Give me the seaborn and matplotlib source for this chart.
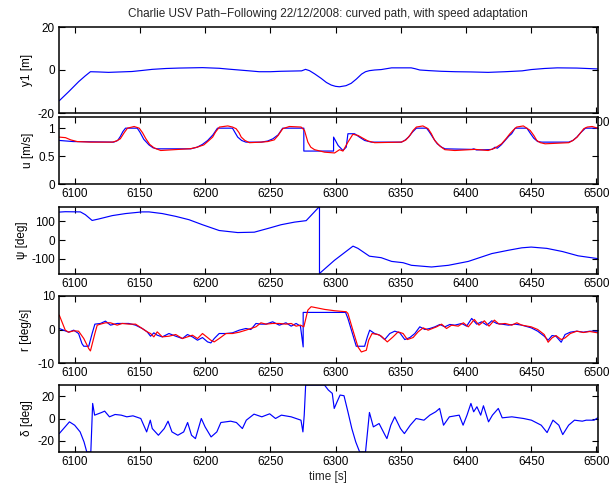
import matplotlib
matplotlib.use("Agg")
import matplotlib.pyplot as plt
import seaborn as sns

# ---- cross-track error y1 [m]
t_y1 = [6088.2, 6095.4, 6103.1, 6108, 6112.1, 6118, 6126, 6135, 6144, 6152,
        6159.5, 6170, 6180, 6198, 6210.8, 6218, 6226, 6234, 6241.5, 6250,
        6258, 6274, 6277, 6280, 6284, 6289, 6293, 6296.7, 6300, 6303, 6308,
        6312, 6316, 6320, 6323, 6326, 6330, 6335, 6343, 6358, 6361, 6364.6,
        6372, 6381, 6392, 6404, 6417, 6430, 6443, 6450, 6460, 6470, 6485,
        6501]
y1 = [-14.3, -10.1, -5.4, -2.8, -0.8, -0.9, -1.1, -0.9, -0.7, -0.2,
      0.3, 0.7, 0.9, 1.1, 0.8, 0.4, 0.0, -0.4, -0.8, -0.8,
      -0.6, -0.4, 0.3, -0.3, -1.8, -3.9, -5.8, -7.0, -7.6, -7.8, -7.3,
      -6.2, -4.2, -1.9, -0.8, -0.3, 0.0, 0.2, 1.0, 1.0, 0.6, 0.0,
      -0.3, -0.6, -0.8, -0.9, -1.1, -0.8, -0.4, 0.2, 0.7, 1.0, 0.9,
      0.5]

# ---- surge speed u [m/s]: desired (blue) and measured (red)
t_u_ref = [6088.2, 6099, 6130, 6133, 6135, 6137, 6139, 6148, 6150, 6153,
           6157, 6160, 6163, 6189, 6194, 6198, 6202, 6206, 6209.5, 6221,
           6223, 6225, 6228, 6231.3, 6243, 6248, 6252, 6256, 6259.5,
           6275.7, 6275.7, 6298.5, 6298.5, 6302, 6305.7, 6308.2, 6309.5,
           6314.6, 6319, 6322.3, 6327.5, 6350.5, 6353, 6356, 6359, 6362,
           6369.8, 6372, 6375, 6378, 6381.3, 6384, 6404.4, 6406, 6408,
           6417, 6420, 6422.3, 6424, 6427, 6430, 6433, 6435, 6437.7, 6446.7,
           6449, 6452, 6455, 6458.2, 6478.8, 6482, 6485, 6488, 6491.6, 6501]
u_ref = [0.78, 0.76, 0.75, 0.78, 0.85, 0.94, 1.00, 1.00, 0.93, 0.80,
         0.70, 0.65, 0.63, 0.63, 0.66, 0.71, 0.78, 0.88, 1.00, 1.00,
         0.92, 0.84, 0.78, 0.75, 0.75, 0.77, 0.81, 0.88, 1.00,
         1.00, 0.59, 0.59, 0.84, 0.69, 0.60, 0.66, 0.90,
         0.90, 0.83, 0.78, 0.75, 0.75, 0.78, 0.84, 0.93, 1.00,
         1.00, 0.93, 0.82, 0.72, 0.66, 0.63, 0.62, 0.63, 0.61,
         0.615, 0.62, 0.66, 0.64, 0.70, 0.78, 0.86, 0.90, 1.00, 1.00,
         0.92, 0.82, 0.76, 0.75, 0.75, 0.78, 0.84, 0.92, 1.00, 1.00]

t_u_meas = [6088.2, 6093, 6097, 6102, 6112, 6129, 6132, 6135, 6138, 6140.5,
            6145.6, 6149.5, 6152, 6154.6, 6157.5, 6161, 6166, 6176.5, 6189,
            6194, 6199, 6202, 6205.8, 6208, 6211, 6217.4, 6221, 6223.8, 6226,
            6227.7, 6230.5, 6234, 6243, 6248, 6253, 6256, 6259.5, 6264.6,
            6273.6, 6276.2, 6278.8, 6281, 6283.9, 6291.6, 6299.3, 6303.1,
            6305.7, 6309.5, 6313.3, 6317.2, 6321, 6324.9, 6330, 6350.5, 6354,
            6357, 6359.5, 6362, 6367, 6371, 6373.5, 6376, 6380, 6383.8,
            6391.5, 6407, 6417, 6422, 6427.3, 6431, 6433.7, 6436.5, 6438.9,
            6444, 6449.2, 6452, 6454.3, 6457, 6460.7, 6478.8, 6482, 6485.2,
            6488, 6490.3, 6493, 6496.7, 6501]
u_meas = [0.84, 0.83, 0.79, 0.76, 0.75, 0.75, 0.77, 0.81, 0.92, 1.00,
          1.03, 1.00, 0.92, 0.81, 0.71, 0.645, 0.60, 0.615, 0.633,
          0.66, 0.70, 0.76, 0.84, 0.93, 1.02, 1.04, 1.02, 0.99, 0.92,
          0.84, 0.78, 0.74, 0.75, 0.76, 0.79, 0.87, 0.99, 1.03,
          1.02, 0.96, 0.75, 0.66, 0.615, 0.57, 0.556, 0.615,
          0.59, 0.75, 0.89, 0.87, 0.82, 0.77, 0.74, 0.75, 0.79,
          0.87, 0.96, 1.02, 1.04, 0.99, 0.90, 0.78, 0.68, 0.615,
          0.60, 0.62, 0.60, 0.64, 0.72, 0.82, 0.90, 0.97, 1.02,
          1.04, 0.96, 0.87, 0.78, 0.74, 0.72, 0.74, 0.78, 0.84,
          0.92, 0.99, 1.02, 1.03, 1.00]

# ---- heading psi [deg] (wraps at +/-180)
t_psi = [6088.2, 6092.8, 6104.4, 6108.2, 6113.4, 6118.5, 6128.8, 6139, 6151.8,
         6157, 6167.2, 6177.5, 6187.7, 6198, 6210.8, 6225, 6237.7, 6249.2,
         6258.2, 6268.5, 6277.5, 6287.7, 6287.7, 6299.2, 6313.4, 6317.2,
         6326, 6335, 6343, 6351.8, 6358.2, 6373.6, 6386.5, 6401.8, 6419.8,
         6432.6, 6442.8, 6450, 6462, 6474, 6486, 6501]
psi = [150, 152, 151, 136, 105, 113, 131, 142, 151,
       151, 142, 127, 109, 82, 51, 40, 42, 64,
       82, 96, 104, 180, -180, -109, -33, -45,
       -87, -95, -115, -122, -136, -145, -136, -115, -73,
       -55, -42, -38, -45, -62, -85, -100]

# ---- yaw rate r [deg/s]: reference (blue) and measured (red)
t_r_ref = [6088.2, 6092.8, 6095.4, 6099.3, 6103, 6105.6, 6107, 6110.8, 6113.4,
           6115.5, 6119.8, 6123.6, 6127.5, 6132.6, 6136.5, 6141.5, 6146.7,
           6151.8, 6155.6, 6158.2, 6160.7, 6163.3, 6167.2, 6172.3, 6177.5,
           6182.6, 6186.5, 6190.3, 6194.2, 6198, 6201.9, 6204.4, 6207,
           6210.8, 6216, 6221, 6226.2, 6231.3, 6235.1, 6239, 6242.8, 6246.7,
           6251.8, 6256.9, 6262, 6266, 6269.8, 6273.1, 6275.2, 6275.2,
           6275.4, 6307.7, 6309.5, 6315.9, 6322.3, 6324.4, 6326.2, 6330,
           6333.9, 6337.7, 6341.6, 6345.4, 6349.3, 6353.1, 6357, 6360.8,
           6364.6, 6368.5, 6372.3, 6376.2, 6380, 6383.8, 6387.7, 6391.5,
           6396.7, 6400.5, 6404.4, 6408.2, 6412, 6416, 6419.8, 6423.6,
           6427.4, 6432.6, 6437.7, 6442.8, 6450, 6455, 6460, 6463, 6466,
           6469, 6473, 6476, 6480, 6485, 6490, 6495, 6501]
r_ref = [0.3, -0.4, -0.8, -0.2, -1.2, -4.2, -5.0, -5.0, -1.2,
         1.6, 1.8, 2.5, 1.3, 1.8, 1.8, 1.8, 1.3,
         0.3, -0.7, -2.0, -1.0, -1.7, -2.2, -1.2, -2.0,
         -2.7, -1.5, -2.2, -3.2, -2.4, -3.7, -4.0, -2.7,
         -1.2, -1.2, -1.0, -0.2, 0.3, 0.0, 1.8, 1.6, 1.6,
         2.3, 1.3, 2.0, 1.0, 1.8, 1.0, -5.2, 5.1,
         5.1, 5.1, 3.3, -5.0, -5.0, -2.2, -0.2, -1.2,
         -1.7, -3.0, -1.2, -0.5, -1.0, -3.0, -2.4, -1.2,
         0.8, 0.0, 0.3, 0.8, 1.5, 0.8, 1.5, 1.3,
         1.8, 1.0, 3.3, 1.6, 2.3, 1.3, 2.6, 1.8,
         1.6, 1.3, 1.6, 1.3, 0.5, -0.5, -2.0, -3.2, -1.8,
         -2.0, -3.8, -1.5, -0.8, -0.5, -0.8, -0.5, -0.5]

t_r_meas = [6088.2, 6092.8, 6095.4, 6099.3, 6103, 6107, 6110.8, 6112.1,
            6115.5, 6117.3, 6119.8, 6123.6, 6127.5, 6132.6, 6136.5, 6141.5,
            6146.7, 6151.8, 6155.6, 6158.2, 6160.7, 6163.3, 6167.2, 6172.3,
            6177.5, 6182.6, 6186.5, 6190.3, 6194.2, 6198, 6201.9, 6204.4,
            6207, 6210.8, 6216, 6221, 6226.2, 6231.3, 6235.1, 6239, 6242.8,
            6246.7, 6251.8, 6256.9, 6262, 6266, 6269.8, 6273.1, 6275.7,
            6278.8, 6281.3, 6283.9, 6291.6, 6299.3, 6308.2, 6309.5, 6313.3,
            6317.2, 6319.8, 6323.6, 6325.4, 6328, 6332.6, 6335.1, 6339.7,
            6344.1, 6348, 6351.8, 6355.1, 6359.5, 6363.3, 6367.2, 6371,
            6377.5, 6381.3, 6385.1, 6389, 6394.1, 6398, 6401.8, 6406.4, 6410,
            6414.1, 6417.7, 6421.8, 6425.4, 6430, 6435.1, 6439, 6442.8, 6450,
            6455, 6460, 6463, 6466, 6469, 6473, 6476, 6480, 6485, 6490, 6495,
            6501]
r_meas = [4.3, -0.2, -0.8, -0.4, -0.5, -2.7, -5.7, -6.4,
          -1.2, 1.3, 1.6, 2.0, 2.0, 1.3, 1.8, 1.6,
          1.6, 0.3, -0.7, -1.2, -2.2, -0.7, -2.2, -2.0,
          -1.5, -2.7, -2.2, -1.7, -2.7, -1.2, -2.4, -3.2,
          -3.7, -2.7, -1.2, -1.2, -0.8, -0.2, 0.3, 0.8, 2.0,
          1.6, 1.8, 1.8, 1.6, 1.8, 1.0, 1.3, 0.8,
          5.8, 6.8, 6.6, 6.0, 5.6, 5.3, 4.8, -0.2,
          -5.2, -6.7, -6.2, -3.2, -1.2, -1.5, -2.0, -3.7,
          -2.2, -0.7, -1.2, -3.0, -2.4, -0.7, 0.5, -0.2,
          0.8, 1.6, 0.3, 1.3, 1.0, 2.0, 0.8, 3.0, 1.3,
          2.6, 1.0, 2.8, 1.6, 1.8, 1.3, 2.0, 1.3, 0.8,
          0.0, -1.5, -3.8, -2.5, -1.8, -3.0, -2.5, -1.2, -0.5, -0.9, -0.6,
          -1.0]

# ---- rudder angle delta [deg]
t_delta = [6088.2, 6096, 6100, 6104.2, 6107.2, 6109.3, 6112.4, 6113.8, 6115.3,
           6120.7, 6123, 6126.7, 6131, 6135.7, 6140, 6144.7, 6150.7, 6155.2,
           6158, 6159.5, 6164.2, 6168.7, 6171.6, 6174.6, 6179.1, 6183.6,
           6186.6, 6189.6, 6192.6, 6197.1, 6200, 6204.6, 6209, 6212.1, 6219.6,
           6224, 6228.6, 6231.6, 6237.5, 6243.5, 6249.5, 6254, 6258.5, 6266,
           6273.5, 6275, 6276, 6277.1, 6291.5, 6294.5, 6297.5, 6299, 6301.2,
           6303.5, 6306.5, 6309.5, 6312.5, 6315.5, 6318.5, 6323, 6326, 6329,
           6333.4, 6338, 6339.4, 6342.4, 6345.4, 6349.8, 6352.8, 6357.3,
           6361.8, 6367.8, 6372.3, 6376.8, 6379.8, 6382.8, 6387.3, 6394.8,
           6397.8, 6400.8, 6403.8, 6405.9, 6408.4, 6411.3, 6413.4, 6417.3,
           6420.3, 6424.8, 6427.8, 6435.2, 6444.2, 6450.2, 6457.7, 6462.2,
           6466.7, 6471.2, 6474.2, 6478.7, 6483.2, 6489.2, 6492.2, 6498.2,
           6501]
delta = [-13.5, -3.0, -6.0, -12.0, -21.0, -30.0, -30.0, 13.5, 3.0,
         5.4, 6.6, 1.5, 3.6, 3.0, 1.5, 2.4, 0.0, -12.0,
         -1.5, -9.0, -15.0, -9.0, -2.4, -12.0, -15.0, -12.0,
         -3.6, -15.0, -18.0, 0.0, -7.5, -16.5, -12.0, -3.6, -2.4,
         -3.6, -9.0, -1.5, 3.9, 1.5, 4.2, 0.0, 3.0, 1.5,
         -1.5, -12.0, 3.0, 30.0, 30.0, 25.5, 22.5, 9.0, 15.0,
         21.0, 20.4, 6.0, -9.0, -21.0, -30.0, -30.0, 5.4, -7.5,
         -4.5, -15.0, -18.0, -6.0, 1.5, -9.0, -13.5, -6.0,
         0.0, -1.5, 3.0, 6.0, 9.0, -6.0, 1.5, 3.0,
         -6.0, 3.0, 13.5, 6.0, 10.5, 3.0, 11.4, -3.0,
         3.0, 9.0, 0.6, 1.5, 0.0, -1.5, -6.0, -12.6,
         -1.5, -6.0, -14.4, -6.0, -1.5, -2.4, -1.5, -1.5,
         0.6]

title_text = "Charlie USV Path\u2212Following 22/12/2008: curved path, with speed adaptation"
x_ticks = [6100, 6150, 6200, 6250, 6300, 6350, 6400, 6450, 6500]

sns.set_style("white")
plt.rcParams["font.family"] = ["Liberation Sans", "DejaVu Sans"]
plt.rcParams["axes.unicode_minus"] = False

W, H = 610, 486
fig = plt.figure(figsize=(W / 100, H / 100), dpi=100)

x0, x1 = 59, 597.7
boxes = [(27, 113), (117, 184), (206.5, 273.5), (296, 363), (385, 452)]
axes = []
for top, bot in boxes:
    ax = fig.add_axes([x0 / W, 1 - bot / H, (x1 - x0) / W, (bot - top) / H])
    ax.set_facecolor("white")
    axes.append(ax)

BLUE = (0, 0, 1)
RED = (1, 0, 0)
LW = 0.85

def draw(ax, t, v, color):
    sns.lineplot(x=t, y=v, ax=ax, color=color, lw=LW, estimator=None,
                 sort=False, legend=False)

draw(axes[0], t_y1, y1, BLUE)
draw(axes[1], t_u_ref, u_ref, BLUE)
draw(axes[1], t_u_meas, u_meas, RED)
draw(axes[2], t_psi, psi, BLUE)
draw(axes[3], t_r_ref, r_ref, BLUE)
draw(axes[3], t_r_meas, r_meas, RED)
draw(axes[4], t_delta, delta, BLUE)

ylims = [(-20, 20), (0, 1.2), (-180, 180), (-10, 10), (-30, 30)]
yticks = [[-20, 0, 20], [0, 0.5, 1], [-100, 0, 100], [-10, 0, 10], [-20, 0, 20]]
ylabels = ["y1 [m]", "u [m/s]", "\u03c8 [deg]", "r [deg/s]", "\u03b4 [deg]"]
ylabel_x = [27, 28, 22, 26, 27]

for ax, yl, yt, lab, lx in zip(axes, ylims, yticks, ylabels, ylabel_x):
    ax.set_xlim(6088, 6501)
    ax.set_ylim(*yl)
    ax.set_xticks(x_ticks)
    ax.set_yticks(yt)
    ax.set_yticklabels([f"{v:g}" for v in yt])
    ax.set_xticklabels([str(v) for v in x_ticks])
    ax.tick_params(direction="in", bottom=True, left=True, top=True,
                   right=True, length=4, width=0.8, labelsize=8.5,
                   colors="black", pad=3)
    for s in ax.spines.values():
        s.set_color("black")
        s.set_linewidth(1.1)
        s.set_visible(True)
    ax.set_ylabel(lab, fontsize=8.5, color="black", va="center")
    ax.yaxis.set_label_coords((lx - x0) / (x1 - x0), 0.5)
    ax.set_xlabel("")

axes[4].set_xlabel("time [s]", fontsize=8.5, labelpad=2)
fig.text((x0 + x1) / 2 / W, 1 - 14 / H, title_text, ha="center", va="center",
         fontsize=8.5)

fig.savefig("out.png", dpi=100)
